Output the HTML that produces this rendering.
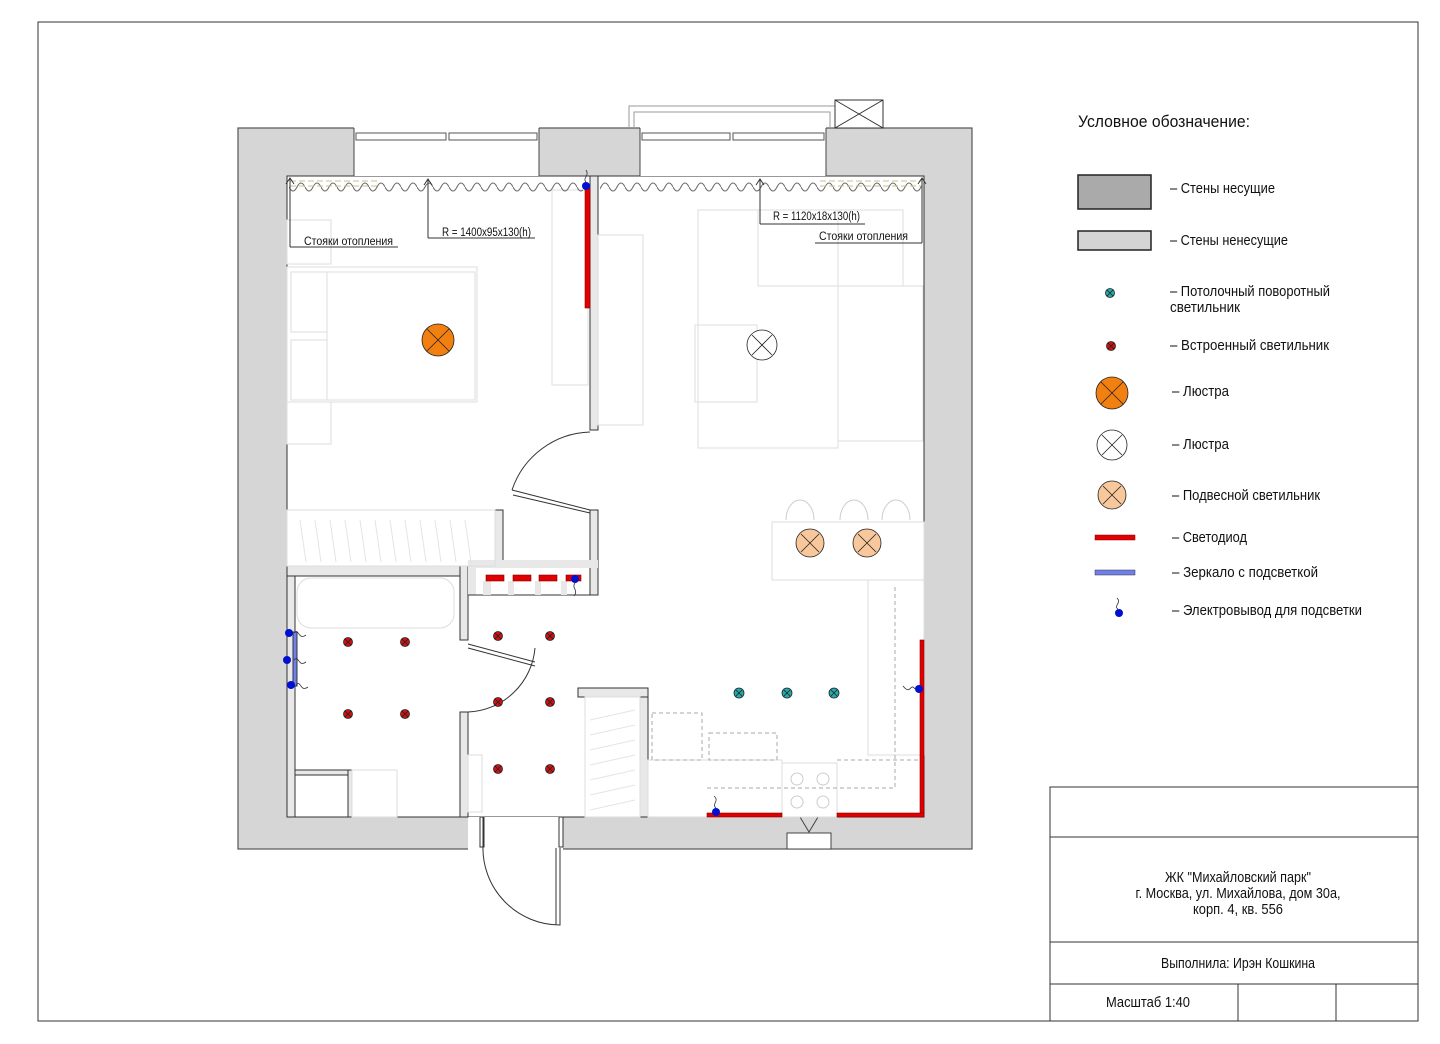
<!DOCTYPE html>
<html><head><meta charset="utf-8"><style>
html,body{margin:0;padding:0;background:#fff}
svg{display:block}
text{font-family:"Liberation Sans",sans-serif;fill:#111}
</style></head><body>
<svg width="1440" height="1044" viewBox="0 0 1440 1044" xmlns="http://www.w3.org/2000/svg">
<defs>
<pattern id="wave" x="289" y="180" width="16" height="14" patternUnits="userSpaceOnUse">
<path d="M0,7 Q4,15 8,7 Q12,-1 16,7" fill="none" stroke="#666" stroke-width="1"/>
</pattern>
</defs>
<rect x="38" y="22" width="1380" height="999" fill="none" stroke="#333" stroke-width="1"/>

<rect x="238" y="128" width="734" height="721" fill="#d6d6d6" stroke="#555" stroke-width="1.2"/>
<rect x="287" y="176" width="637" height="641" fill="#fff" stroke="#333" stroke-width="1"/>
<rect x="354" y="127" width="185" height="49" fill="#fff"/>
<rect x="640" y="127" width="186" height="49" fill="#fff"/>
<line x1="354" y1="128" x2="354" y2="176" stroke="#444"/><line x1="539" y1="128" x2="539" y2="176" stroke="#444"/>
<line x1="640" y1="128" x2="640" y2="176" stroke="#444"/><line x1="826" y1="128" x2="826" y2="176" stroke="#444"/>
<g fill="#fff" stroke="#555" stroke-width="1">
<rect x="356" y="133" width="90" height="7"/><rect x="449" y="133" width="88" height="7"/>
<rect x="642" y="133" width="88" height="7"/><rect x="733" y="133" width="91" height="7"/>
</g>
<path d="M629,128 V106 H835 M634,128 V112 H830 V128" fill="none" stroke="#999"/>
<rect x="835" y="100" width="48" height="28" fill="#fff" stroke="#333"/>
<path d="M835,100 L883,128 M883,100 L835,128" stroke="#333"/>
<rect x="468" y="817" width="95" height="33" fill="#fff"/>
<rect x="787" y="833" width="44" height="16" fill="#fff" stroke="#444"/>
<path d="M800,817 L809,832 L818,817" fill="none" stroke="#444"/>

<g fill="#e8e8e8" stroke="#333" stroke-width="1">
<rect x="590" y="176" width="8" height="254"/>
<rect x="590" y="510" width="8" height="85"/>
<rect x="495" y="510" width="8" height="56"/>
<rect x="287" y="566" width="181" height="10"/>
<rect x="460" y="566" width="8" height="74"/>
<rect x="460" y="712" width="8" height="105"/>
<rect x="468" y="560" width="130" height="8" stroke="none"/>
<rect x="468" y="568" width="8" height="27" stroke="none"/>
<rect x="578" y="688" width="70" height="9"/>
<rect x="640" y="697" width="8" height="120"/>
<rect x="287" y="576" width="8" height="241"/>
<rect x="295" y="770" width="53" height="5"/>
<rect x="348" y="770" width="4" height="47"/>
</g>
<path d="M468,595 H598" stroke="#333"/>
<g fill="#e8e8e8"><rect x="483" y="581" width="8" height="14"/><rect x="508" y="581" width="6" height="14"/><rect x="535" y="581" width="6" height="14"/><rect x="561" y="581" width="6" height="14"/></g>

<g fill="none" stroke="#333" stroke-width="1">
<path d="M590,432 A85,85 0 0,0 512,490"/>
<path d="M512,490 L590,510 M513,495 L590,513"/>
<path d="M535,648 A70,70 0 0,1 468,712"/>
<path d="M468,644 L535,662 M468,648 L535,666"/>
<path d="M483,817 L483,845 A77,77 0 0,0 560,925 L560,848 M556,925 V848"/>
<rect x="480" y="817" width="4" height="30"/><rect x="559" y="817" width="4" height="30"/>
</g>

<g fill="none" stroke="#ddd" stroke-width="1">
<rect x="287" y="267" width="190" height="135"/><rect x="327" y="272" width="148" height="128"/>
<rect x="291" y="272" width="36" height="60"/><rect x="291" y="340" width="36" height="60"/>
<rect x="287" y="220" width="44" height="44"/><rect x="287" y="402" width="44" height="42"/>
<rect x="552" y="190" width="36" height="195"/>
<rect x="598" y="235" width="45" height="190"/>
<rect x="698" y="210" width="140" height="238"/><rect x="695" y="325" width="62" height="77"/>
<rect x="758" y="210" width="145" height="76"/><rect x="838" y="286" width="85" height="155"/>
<rect x="772" y="522" width="152" height="58"/>
<rect x="287" y="510" width="208" height="56"/>
<rect x="297" y="578" width="157" height="50" rx="14"/>
<rect x="352" y="770" width="45" height="47"/>
<rect x="468" y="755" width="14" height="57"/>
<rect x="585" y="697" width="55" height="120"/>
<rect x="648" y="760" width="134" height="57"/>
<rect x="782" y="763" width="55" height="54"/>
<rect x="868" y="580" width="56" height="175"/>
</g>
<g stroke="#e4e4e4"><path d="M300,520 l6,42 M315,520 l6,42 M330,520 l6,42 M345,520 l6,42 M360,520 l6,42 M375,520 l6,42 M390,520 l6,42 M405,520 l6,42 M420,520 l6,42 M435,520 l6,42 M450,520 l6,42 M465,520 l6,42"/>
<path d="M590,720 l45,-10 M590,735 l45,-10 M590,750 l45,-10 M590,765 l45,-10 M590,780 l45,-10 M590,795 l45,-10 M590,810 l45,-10"/></g>
<g fill="none" stroke="#aaa" stroke-dasharray="4,3"><rect x="652" y="713" width="50" height="47"/><rect x="709" y="733" width="68" height="27"/>
<path d="M707,788 H895 V585 M837,760 H922"/></g>
<g fill="none" stroke="#ccc"><circle cx="797" cy="779" r="6"/><circle cx="823" cy="779" r="6"/><circle cx="797" cy="802" r="6"/><circle cx="823" cy="802" r="6"/>
<path d="M786,520 a14,20 0 0,1 28,0 M840,520 a14,20 0 0,1 28,0 M882,520 a14,20 0 0,1 28,0"/></g>

<rect x="289" y="180" width="294" height="16" fill="url(#wave)"/>
<rect x="600" y="180" width="322" height="16" fill="url(#wave)"/>
<g stroke="#c8c090" stroke-dasharray="6,3"><path d="M290,181 H380 M290,186 H380 M820,181 H922 M820,186 H922"/></g>
<g fill="none" stroke="#333" stroke-width="1">
<path d="M290,247 V178 M286,184 L290,178 L294,184"/><path d="M290,247 H398"/>
<path d="M428,238 V179 M424,185 L428,179 L432,185"/><path d="M428,238 H535"/>
<path d="M760,224 V179 M756,185 L760,179 L764,185"/><path d="M760,224 H865"/>
<path d="M922,243 V178 M918,184 L922,178 L926,184"/><path d="M815,243 H922"/>
</g>
<g font-size="11.5">
<text x="304" y="245" textLength="89" lengthAdjust="spacingAndGlyphs">Стояки отопления</text>
<text x="442" y="236" textLength="89" lengthAdjust="spacingAndGlyphs">R = 1400x95x130(h)</text>
<text x="773" y="220" textLength="87" lengthAdjust="spacingAndGlyphs">R = 1120x18x130(h)</text>
<text x="819" y="240" textLength="89" lengthAdjust="spacingAndGlyphs">Стояки отопления</text></g>

<g fill="#e00000" stroke="#800" stroke-width="0.6">
<rect x="585" y="188" width="5" height="120"/>
<rect x="486" y="575" width="18" height="6"/><rect x="513" y="575" width="18" height="6"/><rect x="539" y="575" width="18" height="6"/><rect x="566" y="575" width="15" height="6"/>
<rect x="920" y="640" width="4" height="177"/>
<rect x="707" y="813" width="75" height="4"/><rect x="837" y="813" width="87" height="4"/>
</g>
<rect x="293" y="632" width="4" height="54" fill="#7080e8" stroke="#334"/>
<g fill="#0010d0"><circle cx="586" cy="186" r="4"/><circle cx="575" cy="579" r="4"/><circle cx="289" cy="633" r="4"/><circle cx="287" cy="660" r="4"/><circle cx="291" cy="685" r="4"/><circle cx="919" cy="689" r="4"/><circle cx="716" cy="812" r="4"/></g>
<g fill="none" stroke="#333" stroke-width="0.8"><path d="M586,182 c-4,-4 4,-6 0,-12"/><path d="M575,583 c-4,5 4,7 -1,13"/><path d="M294,633 c5,-6 4,8 12,2"/><path d="M294,660 c5,-6 4,8 12,2"/><path d="M296,685 c5,-6 4,8 12,2"/><path d="M915,689 c-5,-7 -4,7 -12,-3"/><path d="M716,808 c-5,-4 4,-7 -2,-12"/></g>

<g stroke="#222" stroke-width="0.8">
<g fill="#cc1111">
<circle cx="348" cy="642" r="4.5"/><circle cx="405" cy="642" r="4.5"/><circle cx="348" cy="714" r="4.5"/><circle cx="405" cy="714" r="4.5"/>
<circle cx="498" cy="636" r="4.5"/><circle cx="550" cy="636" r="4.5"/><circle cx="498" cy="702" r="4.5"/><circle cx="550" cy="702" r="4.5"/>
<circle cx="498" cy="769" r="4.5"/><circle cx="550" cy="769" r="4.5"/><circle cx="1111" cy="346" r="4.5"/></g>
<g fill="#22aaaa"><circle cx="739" cy="693" r="5"/><circle cx="787" cy="693" r="5"/><circle cx="834" cy="693" r="5"/><circle cx="1110" cy="293" r="4.5"/></g>
<g fill="#f28010"><circle cx="438" cy="340" r="16"/><circle cx="1112" cy="393" r="16"/></g>
<g fill="#fff"><circle cx="762" cy="345" r="15"/><circle cx="1112" cy="445" r="15"/></g>
<g fill="#f8c89c"><circle cx="810" cy="543" r="14"/><circle cx="867" cy="543" r="14"/><circle cx="1112" cy="495" r="14"/></g>
</g>
<g stroke="#222" stroke-width="0.8">
<path d="M427,329 l22,22 M449,329 l-22,22 M752,335 l20,20 M772,335 l-20,20 M801,534 l18,18 M819,534 l-18,18 M858,534 l18,18 M876,534 l-18,18 M1101,382 l22,22 M1123,382 l-22,22 M1102,435 l20,20 M1122,435 l-20,20 M1103,486 l18,18 M1121,486 l-18,18"/>
<path d="M345,639 l6,6 M351,639 l-6,6 M402,639 l6,6 M408,639 l-6,6 M345,711 l6,6 M351,711 l-6,6 M402,711 l6,6 M408,711 l-6,6 M495,633 l6,6 M501,633 l-6,6 M547,633 l6,6 M553,633 l-6,6 M495,699 l6,6 M501,699 l-6,6 M547,699 l6,6 M553,699 l-6,6 M495,766 l6,6 M501,766 l-6,6 M547,766 l6,6 M553,766 l-6,6 M736,690 l6,6 M742,690 l-6,6 M784,690 l6,6 M790,690 l-6,6 M831,690 l6,6 M837,690 l-6,6 M1107,290 l6,6 M1113,290 l-6,6 M1108,343 l6,6 M1114,343 l-6,6"/>
</g>

<text x="1078" y="127" font-size="17" textLength="172" lengthAdjust="spacingAndGlyphs">Условное обозначение:</text>
<rect x="1078" y="175" width="73" height="34" fill="#aaa" stroke="#222" stroke-width="1.5"/>
<rect x="1078" y="231" width="73" height="19" fill="#d4d4d4" stroke="#222" stroke-width="1.5"/>
<rect x="1095" y="535" width="40" height="5" fill="#e00000" stroke="#800" stroke-width="0.5"/>
<rect x="1095" y="570" width="40" height="5" fill="#7080e8" stroke="#334" stroke-width="0.5"/>
<circle cx="1119" cy="613" r="4" fill="#0010d0"/><path d="M1118,609 c-5,-3 4,-6 -1,-11" fill="none" stroke="#333" stroke-width="0.8"/>
<g font-size="14.5">
<text x="1170" y="193" textLength="105" lengthAdjust="spacingAndGlyphs">– Стены несущие</text>
<text x="1170" y="245" textLength="118" lengthAdjust="spacingAndGlyphs">– Стены ненесущие</text>
<text x="1170" y="296" textLength="160" lengthAdjust="spacingAndGlyphs">– Потолочный поворотный</text><text x="1170" y="312" textLength="70" lengthAdjust="spacingAndGlyphs">светильник</text>
<text x="1170" y="350" textLength="159" lengthAdjust="spacingAndGlyphs">– Встроенный светильник</text>
<text x="1172" y="396" textLength="57" lengthAdjust="spacingAndGlyphs">– Люстра</text>
<text x="1172" y="449" textLength="57" lengthAdjust="spacingAndGlyphs">– Люстра</text>
<text x="1172" y="500" textLength="148" lengthAdjust="spacingAndGlyphs">– Подвесной светильник</text>
<text x="1172" y="542" textLength="75" lengthAdjust="spacingAndGlyphs">– Светодиод</text>
<text x="1172" y="577" textLength="146" lengthAdjust="spacingAndGlyphs">– Зеркало с подсветкой</text>
<text x="1172" y="615" textLength="190" lengthAdjust="spacingAndGlyphs">– Электровывод для подсветки</text>
</g>

<g fill="none" stroke="#333" stroke-width="1">
<rect x="1050" y="787" width="368" height="234"/>
<path d="M1050,837 H1418 M1050,942 H1418 M1050,984 H1418 M1238,984 V1021 M1336,984 V1021"/>
</g>
<g font-size="14.5" text-anchor="middle">
<text x="1238" y="882" textLength="146" lengthAdjust="spacingAndGlyphs">ЖК "Михайловский парк"</text>
<text x="1238" y="898" textLength="205" lengthAdjust="spacingAndGlyphs">г. Москва, ул. Михайлова, дом 30а,</text>
<text x="1238" y="914" textLength="90" lengthAdjust="spacingAndGlyphs">корп. 4, кв. 556</text>
<text x="1238" y="968" textLength="154" lengthAdjust="spacingAndGlyphs">Выполнила: Ирэн Кошкина</text>
<text x="1148" y="1007" textLength="84" lengthAdjust="spacingAndGlyphs">Масштаб 1:40</text>
</g>
</svg>
</body></html>
